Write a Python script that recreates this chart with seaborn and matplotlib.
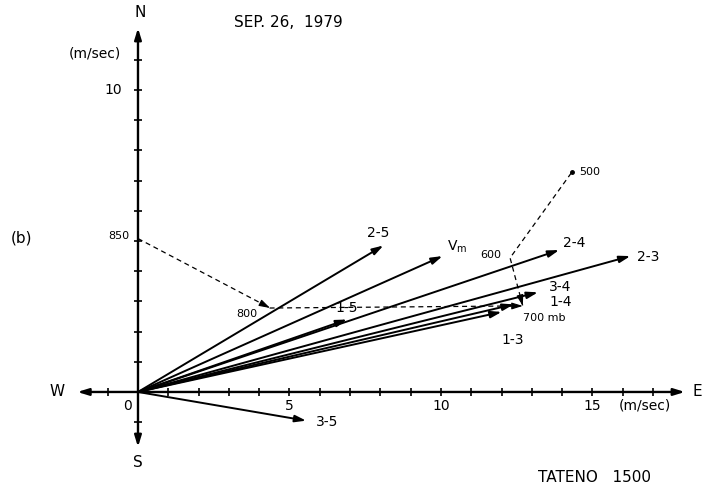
"""
Hodograph of layer shear vectors, Tateno 1500, Sep. 26 1979 (panel b).
"""
import matplotlib
matplotlib.use("Agg")
import matplotlib.pyplot as plt
import seaborn as sns
import numpy as np
import pandas as pd

# Vectors drawn from the origin (m/sec): east and north components
vec_labels = ["2-5", "Vm", "2-4", "2-3", "1-5", "3-4", "1-4", "1-3", "3-5"]
vec_u = [8.1, 10.05, 13.9, 16.25, 6.9, 13.2, 12.4, 12.0, 5.55]
vec_v = [4.85, 4.5, 4.7, 4.5, 2.4, 3.3, 2.9, 2.65, -0.95]

# Wind at each pressure level (dashed hodograph)
levels = ["850", "800", "700", "600", "500"]
lev_u = [0.0, 4.36, 12.7, 12.28, 14.32]
lev_v = [5.08, 2.78, 2.85, 4.44, 7.28]

xtick_labels = [0, 5, 10, 15]
ytick_labels = [10]

sns.set_style("white")
plt.rcParams["font.family"] = ["DejaVu Sans"]
plt.rcParams["text.color"] = "black"

fig = plt.figure(figsize=(7.04, 4.88), dpi=100)
ax = fig.add_axes([0, 0, 1, 1])
ax.set_xlim(-4.554, 18.68)
ax.set_ylim(-3.18, 12.98)
ax.set_axis_off()

head = dict(arrowstyle="-|>,head_length=0.55,head_width=0.17", color="black",
            shrinkA=0, shrinkB=0, mutation_scale=12)

# axes with arrow ends
for end in [(18.05, 0), (-2.0, 0), (0, 12.05), (0, -1.82)]:
    ax.annotate("", xy=end, xytext=(0, 0), arrowprops=dict(head, lw=1.7))

# ticks every 1 m/sec
xt = np.arange(-1, 18)
yt = np.arange(-1, 12)
ax.plot(xt[xt != 0], np.zeros(len(xt) - 1), ls="none", marker="|", ms=6, mew=1.2, color="black")
ax.plot(np.zeros(len(yt) - 1), yt[yt != 0], ls="none", marker="_", ms=6, mew=1.2, color="black")

for t in xtick_labels:
    ax.text(t - 0.33 if t == 0 else t, -0.46, str(t), ha="center", va="center", fontsize=10)
for t in ytick_labels:
    ax.text(-0.53, t, str(t), ha="right", va="center", fontsize=10)
ax.text(16.73, -0.46, "(m/sec)", ha="center", va="center", fontsize=10)
ax.text(-1.42, 11.22, "(m/sec)", ha="center", va="center", fontsize=10)

ax.text(0.07, 12.55, "N", ha="center", va="center", fontsize=11)
ax.text(0.0, -2.35, "S", ha="center", va="center", fontsize=11)
ax.text(-2.67, 0.0, "W", ha="center", va="center", fontsize=11)
ax.text(18.45, 0.0, "E", ha="center", va="center", fontsize=11)

# dashed hodograph
df = pd.DataFrame({"u": lev_u, "v": lev_v, "level": levels})
sns.lineplot(data=df, x="u", y="v", sort=False, estimator=None, ax=ax,
             color="black", lw=0.9, dashes=False, linestyle=(0, (4, 3)))
ax.plot(lev_u[-1], lev_v[-1], "o", ms=2.5, color="black")

# arrowheads on the dashed path, pointing toward 700 mb
for a, b in [(0, 1), (1, 2), (3, 2)]:
    p0 = np.array([lev_u[a], lev_v[a]])
    p1 = np.array([lev_u[b], lev_v[b]])
    ax.annotate("", xy=p1, xytext=p1 - 0.06 * (p1 - p0),
                arrowprops=dict(head, lw=0.8))

lev_offsets = {"850": (-6, 2, "right"), "800": (-9, -4, "right"),
               "700": (0, -9, "left"), "600": (-6, 2, "right"), "500": (5, 0, "left")}
for name, x, y in zip(levels, lev_u, lev_v):
    dx, dy, ha = lev_offsets[name]
    txt = "700 mb" if name == "700" else name
    ax.annotate(txt, (x, y), xytext=(dx, dy), textcoords="offset points",
                ha=ha, va="center", fontsize=8)

# shear vectors from origin
for lab, x, y in zip(vec_labels, vec_u, vec_v):
    ax.annotate("", xy=(x, y), xytext=(0, 0), arrowprops=dict(head, lw=1.4))

vec_offsets = {"2-5": (-4, 9, "center"), "Vm": (3, 7, "left"), "2-4": (3, 5, "left"),
               "2-3": (5, -1, "left"), "1-5": (0, 8, "center"), "3-4": (8, 4, "left"),
               "1-4": (26, 2, "left"), "1-3": (8, -20, "center"), "3-5": (7, -1, "left")}
for lab, x, y in zip(vec_labels, vec_u, vec_v):
    dx, dy, ha = vec_offsets[lab]
    txt = r"V$_{\rm m}$" if lab == "Vm" else lab
    ax.annotate(txt, (x, y), xytext=(dx, dy), textcoords="offset points",
                ha=ha, va="center", fontsize=10)

fig.text(0.409, 0.953, "SEP. 26,  1979", ha="center", va="center", fontsize=11)
fig.text(0.844, 0.0225, "TATENO   1500", ha="center", va="center", fontsize=11)
fig.text(0.031, 0.512, "(b)", ha="center", va="center", fontsize=11)

fig.savefig("out.png", dpi=100)
